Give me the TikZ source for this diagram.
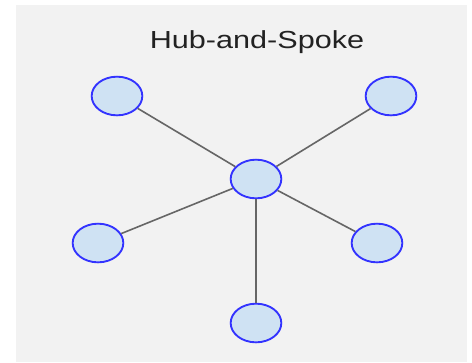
\documentclass[tikz,border=0pt]{standalone}
\usepackage{fontspec}
\setmainfont{Liberation Sans}
\usetikzlibrary{shapes.geometric}
\definecolor{bggray}{HTML}{F2F2F2}
\definecolor{spokefill}{HTML}{CFE2F3}
\definecolor{spokeline}{HTML}{3333FF}
\definecolor{linkgray}{HTML}{666666}
\definecolor{titlegray}{HTML}{222222}
\tikzset{
  spoke/.style={ellipse, draw=spokeline, fill=spokefill, line width=1.4pt,
    minimum width=38pt, minimum height=29pt, inner sep=0pt},
  link/.style={draw=linkgray, line width=1.2pt}
}
\begin{document}
\begin{tikzpicture}[x=0.75pt, y=-0.75pt]
\useasboundingbox (0,0) rectangle (472,362);
\fill[bggray] (16,5) rectangle (467,362);
\node[text=titlegray] (title) at (257,42) {\scalebox{1.24}[1]{\fontsize{18.5pt}{22pt}\selectfont Hub-and-Spoke}};
\node[spoke] (hub) at (256,179) {};
\node[spoke] (tl) at (117,96) {};
\node[spoke] (tr) at (391,96) {};
\node[spoke] (ml) at (98,243) {};
\node[spoke] (mr) at (377,243) {};
\node[spoke] (bot) at (256,323) {};
\draw[link] (hub) -- (tl);
\draw[link] (hub) -- (tr);
\draw[link] (hub) -- (ml);
\draw[link] (hub) -- (mr);
\draw[link] (hub) -- (bot);
\end{tikzpicture}
\end{document}
